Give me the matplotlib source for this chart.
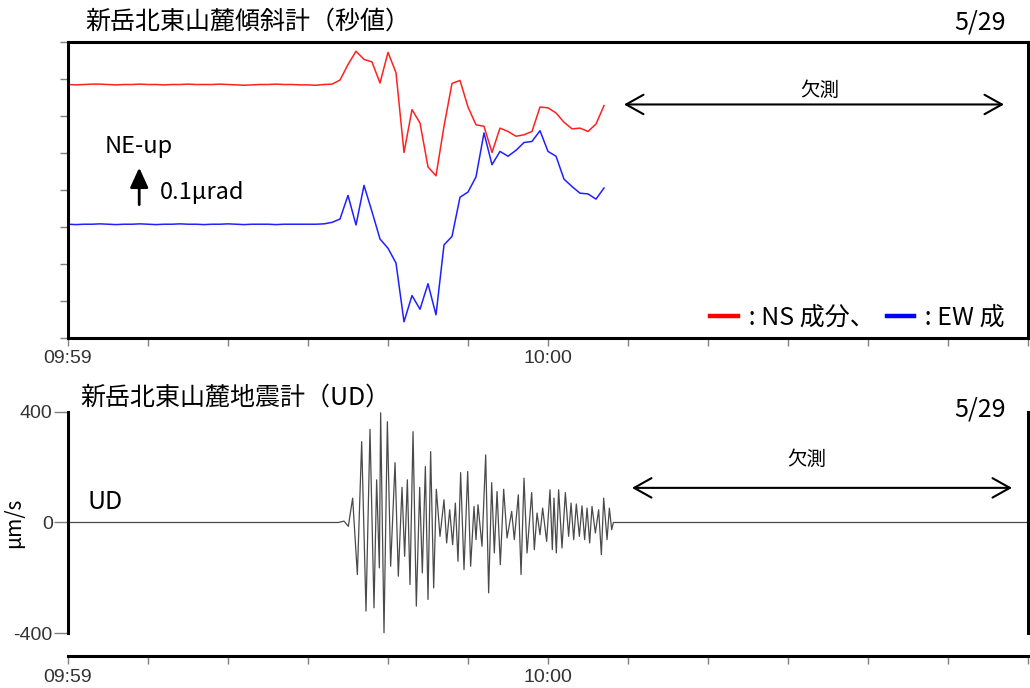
import numpy as np
import matplotlib.pyplot as plt
from matplotlib.lines import Line2D

plt.rcParams['font.family'] = ['Noto Sans CJK JP', 'DejaVu Sans']

# 傾斜計 秒値 (09:59:00 からの秒, μrad 相対値)
tilt_sec = np.arange(68)
ns_tilt = [0.685, 0.684, 0.685, 0.686, 0.686, 0.685, 0.684, 0.685, 0.685, 0.686,
           0.685, 0.685, 0.684, 0.685, 0.685, 0.686, 0.685, 0.685, 0.685, 0.686,
           0.685, 0.684, 0.683, 0.684, 0.685, 0.685, 0.686, 0.685, 0.685, 0.684,
           0.684, 0.683, 0.685,
           0.686, 0.697, 0.739, 0.775, 0.753, 0.746, 0.689, 0.772, 0.717, 0.501,
           0.617, 0.581, 0.462, 0.438, 0.572, 0.688, 0.696, 0.624, 0.576, 0.572,
           0.501, 0.567, 0.558, 0.545, 0.549, 0.558, 0.624, 0.622, 0.608, 0.583,
           0.565, 0.567, 0.558, 0.578, 0.628]
ew_tilt = [0.307, 0.306, 0.307, 0.307, 0.308, 0.307, 0.306, 0.307, 0.307, 0.308,
           0.307, 0.306, 0.307, 0.307, 0.308, 0.307, 0.307, 0.306, 0.307, 0.307,
           0.308, 0.307, 0.306, 0.307, 0.307, 0.307, 0.306, 0.307, 0.307, 0.307,
           0.307, 0.307, 0.308,
           0.312, 0.321, 0.385, 0.305, 0.412, 0.341, 0.267, 0.242, 0.202, 0.043,
           0.114, 0.077, 0.146, 0.062, 0.251, 0.274, 0.380, 0.394, 0.435, 0.554,
           0.468, 0.504, 0.491, 0.507, 0.528, 0.531, 0.560, 0.504, 0.491, 0.429,
           0.409, 0.391, 0.389, 0.375, 0.405]

# 地震計 UD (秒, μm/s) 振幅の山・谷
seis_sec = [0.0, 33.79, 34.5, 35.04, 35.58, 36.17, 36.71, 37.25, 37.75, 38.25,
            38.58, 38.92, 39.08, 39.5, 39.92, 40.33, 40.88, 41.29, 41.75, 42.08,
            42.42, 42.75, 43.13, 43.54, 43.96, 44.29, 44.67, 45.0, 45.33, 45.71,
            46.04, 46.5, 47.0, 47.33, 47.71, 48.08, 48.42, 48.75, 49.08, 49.5,
            49.96, 50.33, 50.75, 51.0, 51.25, 51.75, 52.21, 52.58, 52.96, 53.29,
            53.63, 54.04, 54.46, 54.88, 55.46, 55.79, 56.29, 56.63, 57.0, 57.38,
            57.96, 58.29, 58.63, 59.0, 59.33, 59.83, 60.25, 60.54, 60.75, 61.04,
            61.33, 61.75, 62.17, 62.58, 62.88, 63.21, 63.54, 63.92, 64.25, 64.58,
            64.88, 65.21, 65.5, 65.92, 66.33, 66.67, 66.96, 67.38, 67.67, 67.96,
            68.17, 120.0]
seis_ud = [0, 0, 5, -14, 88, -188, 292, -320, 336, -308,
           154, -164, 396, -398, 364, -158, 216, -194, 127, -122,
           154, -224, 328, -302, 127, -182, 202, -278, 256, -236,
           120, -50, 82, -74, 46, -80, 70, -140, 180, -170,
           184, -158, 58, -62, 64, -86, 244, -254, 144, -110,
           112, -152, 120, -56, 40, -62, 100, -188, 160, -110,
           108, -98, 34, -44, 52, -68, 118, -98, 88, -110,
           118, -92, 108, -50, 70, -62, 67, -50, 60, -62,
           52, -74, 58, -38, 46, -116, 88, -62, 52, -26,
           0, 0]

tick_sec = list(range(0, 121, 10))
tick_text = ['09:59', '', '', '', '', '', '10:00', '', '', '', '', '', '']
legend_text = [' : NS 成分、', ' : EW 成']
ud_ticks = [-400, 0, 400]

W, H = 1030, 688
fig = plt.figure(figsize=(W / 100, H / 100), dpi=100)
ax1 = fig.add_axes([68 / W, 1 - 337.7 / H, 960 / W, 295.7 / H])
ax2 = fig.add_axes([68 / W, 1 - 656 / H, 960 / W, 244.3 / H])

tick_font = dict(fontfamily='Liberation Sans', fontsize=14, color='#333333')

# 上段: 傾斜計
ax1.plot(tilt_sec, ns_tilt, color='#ff2020', lw=1.1)
ax1.plot(tilt_sec, ew_tilt, color='#2020ff', lw=1.1)
ax1.set_xlim(0, 120)
ax1.set_ylim(0, 0.8)
ax1.set_yticks(np.arange(0, 0.81, 0.1))
ax1.set_yticklabels([])
ax1.set_xticks(tick_sec)
ax1.set_xticklabels(tick_text, **tick_font)
for s in ax1.spines.values():
    s.set_linewidth(2.2)
ax1.tick_params(length=6, width=1, color='#808080', pad=3)

handles = [Line2D([], [], color='#ff0000', lw=3.2),
           Line2D([], [], color='#0000ff', lw=3.2)]
ax1.legend(handles, legend_text, loc='lower right', bbox_to_anchor=(0.976, 0.025),
           ncol=2, frameon=False, fontsize=18, handlelength=1.1,
           handletextpad=0.2, columnspacing=0.5, borderpad=0, borderaxespad=0)

ax1.text(8.8, 0.517, 'NE-up', fontsize=17, ha='center', va='center')
ax1.text(11.5, 0.392, '0.1μrad', fontsize=17, ha='left', va='center')
ax1.annotate('', xy=(8.9, 0.46), xytext=(8.9, 0.36),
             arrowprops=dict(arrowstyle='-|>,head_length=1.2,head_width=0.55',
                             mutation_scale=10, lw=2, color='black',
                             shrinkA=0, shrinkB=0))
ax1.annotate('', xy=(117.0, 0.631), xytext=(69.5, 0.631),
             arrowprops=dict(arrowstyle='<->,head_length=1.25,head_width=0.7',
                             mutation_scale=10, lw=1.5, color='black',
                             shrinkA=0, shrinkB=0))
ax1.text(94, 0.668, '欠測', fontsize=14, ha='center', va='center')

# 下段: 地震計
ax2.plot(seis_sec, seis_ud, color='#4a4a4a', lw=0.9)
ax2.set_xlim(0, 120)
ax2.set_ylim(-482, 400)
ax2.spines['top'].set_visible(False)
ax2.spines['left'].set_bounds(-400, 400)
ax2.spines['right'].set_bounds(-400, 400)
for s in ax2.spines.values():
    s.set_linewidth(2.2)
ax2.set_yticks(ud_ticks)
ax2.set_yticklabels([str(v) for v in ud_ticks], **tick_font)
ax2.set_xticks(tick_sec)
ax2.set_xticklabels(tick_text, **tick_font)
ax2.tick_params(axis='x', length=6, width=1, color='#808080', pad=3)
ax2.tick_params(axis='y', length=10, width=1, color='#808080', pad=1)
ax2.set_ylabel('μm/s', fontsize=15)
ax2.yaxis.set_label_coords(-0.045, 482 / 882)

ax2.text(2.5, 75, 'UD', fontsize=18, ha='left', va='center')
ax2.annotate('', xy=(118.0, 125), xytext=(70.5, 125),
             arrowprops=dict(arrowstyle='<->,head_length=1.25,head_width=0.7',
                             mutation_scale=10, lw=1.5, color='black',
                             shrinkA=0, shrinkB=0))
ax2.text(92.3, 226, '欠測', fontsize=14, ha='center', va='center')

# タイトルと日付
fig.text(85 / W, 1 - 22 / H, '新岳北東山麓傾斜計（秒値）', fontsize=18, va='center')
fig.text(80 / W, 1 - 398 / H, '新岳北東山麓地震計（UD）', fontsize=18, va='center')
fig.text(1006 / W, 1 - 22 / H, '5/29', fontsize=18, ha='right', va='center')
fig.text(1006 / W, 1 - 410 / H, '5/29', fontsize=18, ha='right', va='center')

fig.savefig('out.png', dpi=100)
